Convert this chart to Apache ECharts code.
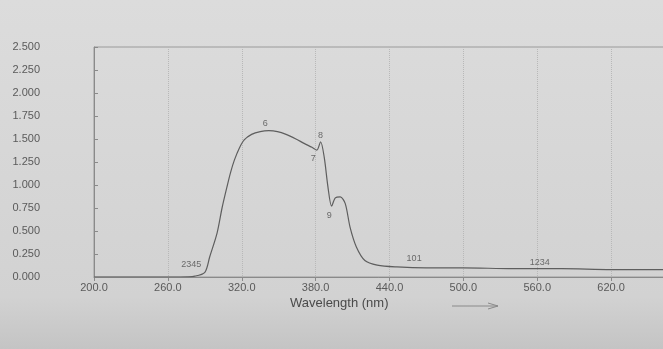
<!DOCTYPE html>
<html>
<head>
<meta charset="utf-8">
<script src="https://cdn.jsdelivr.net/npm/echarts@6/dist/echarts.min.js"></script>
<style>
    html, body { margin: 0; padding: 0; }
    #main { width: 663px; height: 349px; }
</style>
</head>
<body>
<div id="main"></div>
<script>
    // 光谱曲线 (wavelength nm, absorbance)
    var wavelength = [200, 240, 270, 282, 290, 294, 300, 304, 308, 311, 314, 318, 322, 328, 335, 342, 349, 356, 364, 371, 377, 381, 384, 387, 390, 393, 396, 400, 404, 408, 413, 420, 430, 446, 470, 500, 540, 580, 620, 660, 680];
    var absorbance = [0.00, 0.00, 0.00, 0.01, 0.05, 0.22, 0.48, 0.75, 0.98, 1.14, 1.27, 1.40, 1.49, 1.55, 1.58, 1.59, 1.58, 1.55, 1.50, 1.45, 1.41, 1.38, 1.47, 1.30, 0.98, 0.77, 0.86, 0.87, 0.80, 0.54, 0.33, 0.18, 0.13, 0.11, 0.10, 0.10, 0.09, 0.09, 0.08, 0.08, 0.08];

    // 峰标注
    var peakText = ['2345', '6', '7', '8', '9', '101', '1234'];
    var peakX = [279, 339, 378, 384, 391, 460, 562];
    var peakY = [0.14, 1.67, 1.29, 1.54, 0.67, 0.20, 0.16];

    var yTicks = ['0.000', '0.250', '0.500', '0.750', '1.000', '1.250', '1.500', '1.750', '2.000', '2.250', '2.500'];

    var lineData = [];
    for (var i = 0; i < wavelength.length; i++) {
        lineData.push([wavelength[i], absorbance[i]]);
    }
    var peakData = [];
    for (var j = 0; j < peakText.length; j++) {
        peakData.push({ value: [peakX[j], peakY[j]], name: peakText[j] });
    }

    var myChart = echarts.init(document.getElementById('main'));
    var option = {
        backgroundColor: {
            type: 'linear', x: 0, y: 0, x2: 0, y2: 1,
            colorStops: [
                { offset: 0, color: '#dcdcdc' },
                { offset: 0.85, color: '#d2d2d2' },
                { offset: 1, color: '#c4c4c4' }
            ]
        },
        textStyle: { fontFamily: 'Liberation Sans, Arial, sans-serif' },
        grid: {
            left: 94,
            width: 591,
            top: 47,
            bottom: 72,
            outerBoundsMode: 'none',
            show: true,
            borderColor: '#9a9a9a',
            borderWidth: 1
        },
        xAxis: {
            type: 'value',
            min: 200,
            max: 680,
            interval: 60,
            axisLine: { lineStyle: { color: '#8a8a8a' } },
            axisTick: { show: true, length: 4, lineStyle: { color: '#8a8a8a' } },
            axisLabel: {
                color: '#5a5a5a',
                fontSize: 11,
                margin: 5,
                formatter: function (v) { return v.toFixed(1); }
            },
            splitLine: { show: true, lineStyle: { color: '#b8b8b8', type: 'dotted' } }
        },
        yAxis: {
            type: 'value',
            min: 0,
            max: 2.5,
            interval: 0.25,
            axisLine: { show: true, lineStyle: { color: '#8a8a8a' } },
            axisTick: { show: true, inside: true, length: 4, lineStyle: { color: '#8a8a8a' } },
            axisLabel: {
                color: '#5a5a5a',
                fontSize: 11,
                margin: 54,
                formatter: function (v) { return yTicks[Math.round(v / 0.25)]; }
            },
            splitLine: { show: false }
        },
        graphic: [
            {
                type: 'text',
                left: 290,
                top: 297,
                style: { text: 'Wavelength (nm)', fill: '#4a4a4a', font: '13px Liberation Sans, Arial, sans-serif' }
            },
            {
                type: 'line',
                shape: { x1: 452, y1: 306, x2: 498, y2: 306 },
                style: { stroke: '#8a8a8a', lineWidth: 1 }
            },
            {
                type: 'polyline',
                shape: { points: [[488, 303], [498, 306], [488, 309]] },
                style: { stroke: '#8a8a8a', lineWidth: 1, fill: null }
            }
        ],
        series: [
            {
                name: 'spectrum',
                type: 'line',
                data: lineData,
                smooth: 0.3,
                symbol: 'none',
                lineStyle: { color: '#5e5e5e', width: 1.2 },
                z: 3
            },
            {
                name: 'peaks',
                type: 'scatter',
                data: peakData,
                symbolSize: 0,
                label: {
                    show: true,
                    position: 'inside',
                    formatter: '{b}',
                    color: '#4e4e4e',
                    fontSize: 9
                },
                z: 4
            }
        ]
    };
    myChart.setOption(option);
</script>
</body>
</html>
